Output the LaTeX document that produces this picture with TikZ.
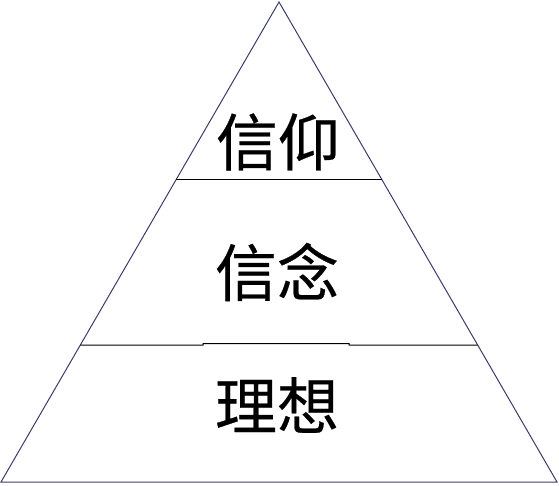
\documentclass[tikz,border=0pt]{standalone}
\usepackage{fontspec}
\usepackage{tikz}
\usetikzlibrary{calc}
\newfontfamily\cjk[FakeBold=0.4]{Noto Sans CJK SC}
\definecolor{edgeblue}{RGB}{58,60,110}
\tikzstyle{pyramid} = [draw = edgeblue, line width=1pt]
\tikzstyle{layer} = [draw = black, line width=1pt]
\tikzstyle{word} = [text centered, inner sep=0pt, font=\cjk\fontsize{62}{62}\selectfont]

\begin{document}
\begin{tikzpicture}[x=1pt, y=1pt]
		\useasboundingbox (0,0) rectangle (559,485);
		\coordinate (top) at (279,483);
		\coordinate (bl) at (1,3);
		\coordinate (br) at (557,3);
		\coordinate (l1) at ($(top)!0.369!(bl)$);
		\coordinate (r1) at ($(top)!0.369!(br)$);
		\coordinate (l2) at ($(top)!0.7146!(bl)$);
		\coordinate (r2) at ($(top)!0.7146!(br)$);
		
		\draw [pyramid](top) -- (bl) -- (br) -- cycle;
		\draw [layer](l1) -- (r1);
		\draw [layer](l2) -- (203,140) -- (203,141.5) -- (349,141.5) -- (349,140) -- (r2);
		
		\node (faith) [word] at (278,343) {信仰};
		\node (belief) [word] at (277,213) {信念};
		\node (ideal) [word] at (277,80) {理想};
	\end{tikzpicture}
\end{document}
